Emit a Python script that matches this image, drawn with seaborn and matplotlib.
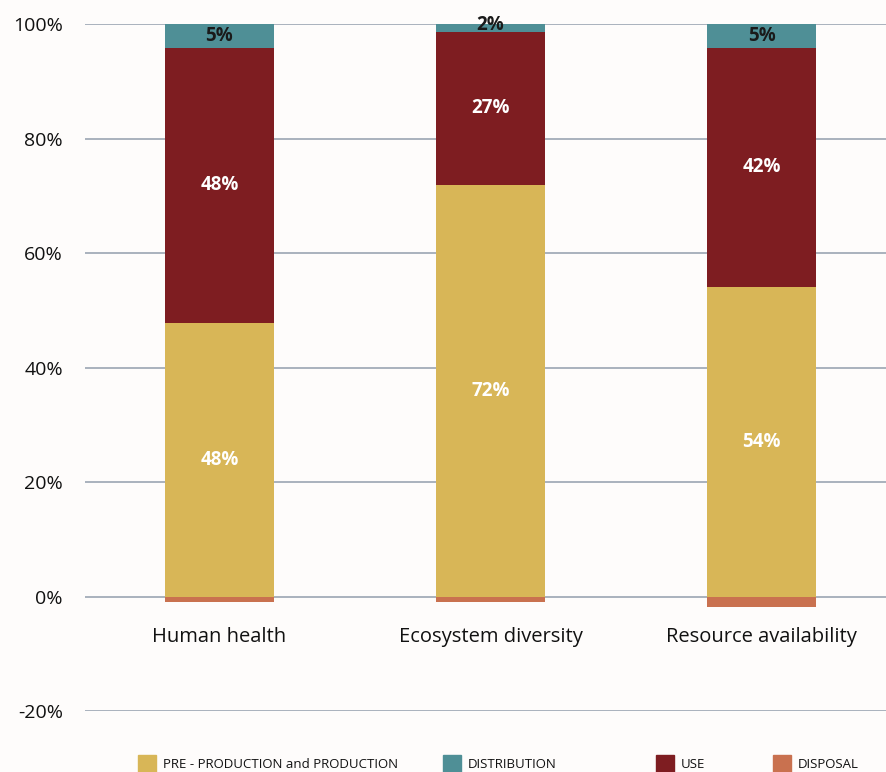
import matplotlib
matplotlib.use("Agg")
import matplotlib.pyplot as plt
import seaborn as sns
import pandas as pd

categories = ["Human health", "Ecosystem diversity", "Resource availability"]
production = [47.8, 71.9, 54.1]
use = [48.0, 26.7, 41.7]
distribution = [4.2, 1.4, 4.2]
disposal = [-0.9, -0.9, -1.9]
prod_labels = ["48%", "72%", "54%"]
use_labels = ["48%", "27%", "42%"]
dist_labels = ["5%", "2%", "5%"]
yticks = [-20, 0, 20, 40, 60, 80, 100]
series_names = ["PRE - PRODUCTION and PRODUCTION", "DISTRIBUTION", "USE", "DISPOSAL"]
colors = {"prod": "#D8B657", "dist": "#4F8F96", "use": "#7E1D21", "disp": "#C9714F"}

sns.set_theme(style="white")
plt.rcParams["font.family"] = ["Open Sans", "DejaVu Sans"]

W, H = 887, 772
fig = plt.figure(figsize=(W/100, H/100), dpi=100, facecolor="#FEFCFB")
ax = fig.add_axes([85/W, 1-711/H, 1-85/W, (711-24)/H])
ax.set_facecolor("#FEFCFB")

df = pd.DataFrame({"cat": categories, "prod": production, "use": use,
                   "dist": distribution, "disp": disposal})
df["top2"] = df["prod"] + df["use"]
df["top3"] = df["top2"] + df["dist"]

for y in yticks:
    ax.axhline(y, color="#A9B1BD", lw=1.4, zorder=0)

w = 0.40
kw = dict(width=w, saturation=1, ax=ax, linewidth=0, edgecolor="none")
sns.barplot(data=df, x="cat", y="top3", color=colors["dist"], zorder=2, **kw)
sns.barplot(data=df, x="cat", y="top2", color=colors["use"], zorder=3, **kw)
sns.barplot(data=df, x="cat", y="prod", color=colors["prod"], zorder=4, **kw)
sns.barplot(data=df, x="cat", y="disp", color=colors["disp"], zorder=4, **kw)

for i in range(len(categories)):
    ax.text(i, df["prod"][i] / 2, prod_labels[i], ha="center", va="center",
            color="white", fontsize=13.5, fontweight="bold", zorder=6)
    ax.text(i, df["prod"][i] + df["use"][i] / 2, use_labels[i], ha="center", va="center",
            color="white", fontsize=13.5, fontweight="bold", zorder=6)
    yd = df["top2"][i] + df["dist"][i] / 2
    if df["dist"][i] < 3:
        yd = 99.8
    ax.text(i, yd, dist_labels[i], ha="center", va="center",
            color="#1A1A1A", fontsize=13.5, fontweight="bold", zorder=6)

ax.set_xlim(-0.496, 2.463)
ax.set_ylim(-20, 100)
ax.set_yticks(yticks)
ax.set_yticklabels([f"{t}%" for t in yticks], fontsize=14, color="#111111")
ax.tick_params(axis="y", length=0, pad=16)
ax.spines["bottom"].set_position(("data", 0))
ax.tick_params(axis="x", length=0, pad=22, labelsize=14.5, labelcolor="#111111")
ax.set_xlabel("")
ax.set_ylabel("")
for s in ax.spines.values():
    s.set_visible(False)

leg_x = [138, 443, 656, 773]
for h_x, name, k in zip(leg_x, series_names, ["prod", "dist", "use", "disp"]):
    fig.patches.append(plt.Rectangle((h_x/W, 0), 18/W, 17/H,
                                     transform=fig.transFigure, color=colors[k], figure=fig))
    fig.text((h_x + 25)/W, 1-764/H, name, fontsize=9.5, va="center", ha="left",
             color="#111111")

fig.savefig("out.png", dpi=100, facecolor=fig.get_facecolor())
